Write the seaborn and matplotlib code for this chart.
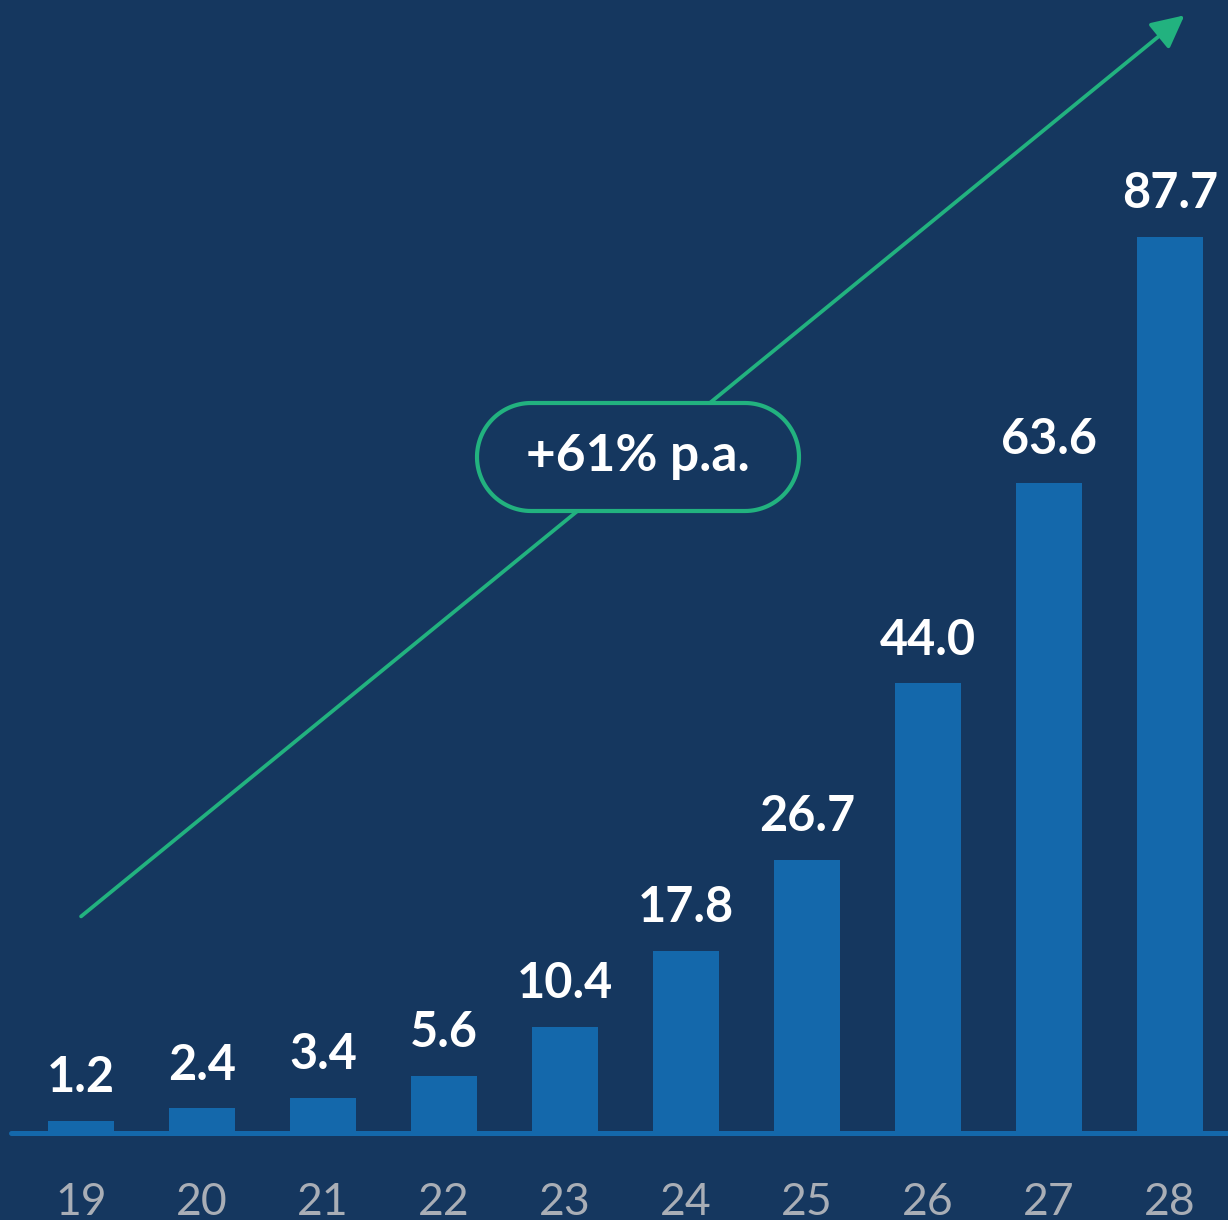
import matplotlib
matplotlib.use("Agg")
import numpy as np
import pandas as pd
import seaborn as sns
import matplotlib.pyplot as plt
from matplotlib.patches import Polygon

years = ["19", "20", "21", "22", "23", "24", "25", "26", "27", "28"]
values = [1.2, 2.4, 3.4, 5.6, 10.4, 17.8, 26.7, 44.0, 63.6, 87.7]
growth_label = "+61% p.a."

bg = "#15375f"
bar_color = "#1468ab"
green = "#22b27f"
tick_gray = "#a9aeb6"

sns.set_theme(style="white")
plt.rcParams["font.family"] = ["Lato", "DejaVu Sans"]

data = pd.DataFrame({"year": years, "value": values})

fig = plt.figure(figsize=(12.28, 12.20), dpi=100, facecolor=bg)
ax = fig.add_axes([0, 87 / 1220, 1, 1 - 87 / 1220])
ax.set_facecolor(bg)

sns.barplot(data=data, x="year", y="value", order=years, color=bar_color,
            saturation=1, width=0.55, linewidth=0, edgecolor=bar_color,
            ax=ax, zorder=2)

# value labels
ax.bar_label(ax.containers[0], labels=[f"{v:.1f}" for v in values],
             padding=15, color="white", fontsize=35, fontweight="bold")

ax.set_xlim(-0.67, 9.48)
ax.set_ylim(0, 110.9)

# baseline
ax.axhline(0, xmin=11 / 1228, xmax=1, color=bar_color, lw=3.6, zorder=3,
           clip_on=False)

for s in ax.spines.values():
    s.set_visible(False)
ax.set_yticks([])
ax.set_xlabel("")
ax.set_ylabel("")
ax.tick_params(axis="x", length=0, pad=35, labelsize=32, labelcolor=tick_gray)

# growth arrow
ax.annotate("", xy=(9.12, 109.4), xytext=(0.0, 21.2),
            arrowprops=dict(arrowstyle="-|>", color=green, lw=2.7,
                            mutation_scale=50, shrinkA=0, shrinkB=0),
            zorder=4)

# pill label (stadium shape, in inches)
cx, cy, w, h = 6.38, 7.63, 3.22, 1.08
r = h / 2
t_right = np.linspace(-np.pi / 2, np.pi / 2, 60)
t_left = np.linspace(np.pi / 2, 3 * np.pi / 2, 60)
right = np.column_stack([cx + w / 2 - r + r * np.cos(t_right), cy + r * np.sin(t_right)])
left = np.column_stack([cx - w / 2 + r + r * np.cos(t_left), cy + r * np.sin(t_left)])
pill = Polygon(np.vstack([right, left]), closed=True,
               transform=fig.dpi_scale_trans, fc=bg, ec=green, lw=3, zorder=5)
ax.add_patch(pill)
fig.text(cx / 12.28, cy / 12.20, growth_label, color="white",
         fontsize=37, fontweight="bold", ha="center", va="center", zorder=6)

fig.savefig("out.png", dpi=100, facecolor=bg)
